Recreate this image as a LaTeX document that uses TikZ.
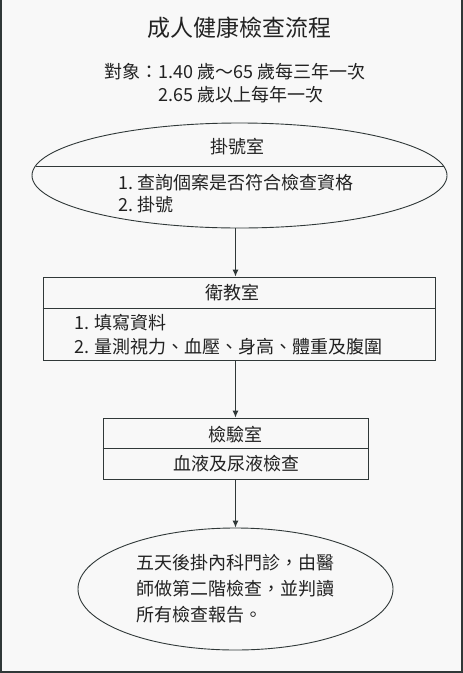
\documentclass[tikz,border=0pt]{standalone}
\usepackage{fontspec}
\usepackage{tikz}
\usetikzlibrary{arrows.meta,positioning,calc,shapes.geometric}
\newfontfamily\cjk{Noto Sans CJK TC}
\definecolor{fondC}{RGB}{248,248,248}
\definecolor{traitC}{RGB}{48,56,56}
\definecolor{texteC}{RGB}{34,34,34}
\tikzset{
  salle/.style={rectangle, draw=traitC, line width=0.9pt, inner sep=0pt},
  ovale/.style={ellipse, draw=traitC, line width=0.9pt, inner sep=0pt},
  etiq/.style={text=texteC, inner sep=0pt, font=\cjk\fontsize{18}{26}\selectfont},
  arr/.style={-{Latex[length=7pt,width=6pt]}, line width=0.9pt, draw=traitC},
}
\begin{document}
\begin{tikzpicture}[x=1pt, y=-1pt]
  \fill[fondC] (0,0) rectangle (463,673);
  \useasboundingbox (0,0) rectangle (463,673);
  \draw[traitC, line width=1.6pt] (1,0) -- (1,672) -- (462,672) -- (462,0);

  % titre et public
  \node[etiq, font=\cjk\fontsize{23}{28}\selectfont] (titre) at (239,28) {成人健康檢查流程};
  \node[etiq, anchor=west] (cible1) at (104,72) {對象：1.40 歲～65 歲每三年一次};
  \node[etiq, anchor=west] (cible2) at (158,95) {2.65 歲以上每年一次};

  % guichet
  \node[ovale, minimum width=415pt, minimum height=105pt] (guichet) at (239.5,175.5) {};
  \draw[traitC, line width=0.9pt] (guichet.center) ++(-204,-9.5) -- ++(408,0);
  \node[etiq] (guichetT) at (237,147) {掛號室};
  \node[etiq, anchor=west] (guichet1) at (118,183) {1.\ 查詢個案是否符合檢查資格};
  \node[etiq, anchor=west] (guichet2) at (118,205) {2.\ 掛號};

  % education
  \node[salle, minimum width=392pt, minimum height=83pt] (educ) at (239,318.5) {};
  \draw[traitC, line width=0.9pt] (educ.west |- 0,308) -- (educ.east |- 0,308);
  \node[etiq] (educT) at (232,293) {衛教室};
  \node[etiq, anchor=west] (educ1) at (74,323) {1. 填寫資料};
  \node[etiq, anchor=west] (educ2) at (74,347) {2. 量測視力、血壓、身高、體重及腹圍};

  % laboratoire
  \node[salle, minimum width=265pt, minimum height=61pt] (labo) at (235.5,448.5) {};
  \draw[traitC, line width=0.9pt] (labo.west |- 0,448) -- (labo.east |- 0,448);
  \node[etiq] (laboT) at (235,435) {檢驗室};
  \node[etiq] (labo1) at (236,464) {血液及尿液檢查};

  % consultation
  \node[ovale, minimum width=315pt, minimum height=122pt] (consult) at (235.5,589) {};
  \node[etiq, align=left] (consultT) at (235,589)
    {五天後掛內科門診，由醫\\師做第二階檢查，並判讀\\所有檢查報告。};

  \draw[arr] (guichet.south -| labo) -- (educ.north -| labo);
  \draw[arr] (educ.south -| labo) -- (labo.north);
  \draw[arr] (labo.south) -- (consult.north);
\end{tikzpicture}
\end{document}
